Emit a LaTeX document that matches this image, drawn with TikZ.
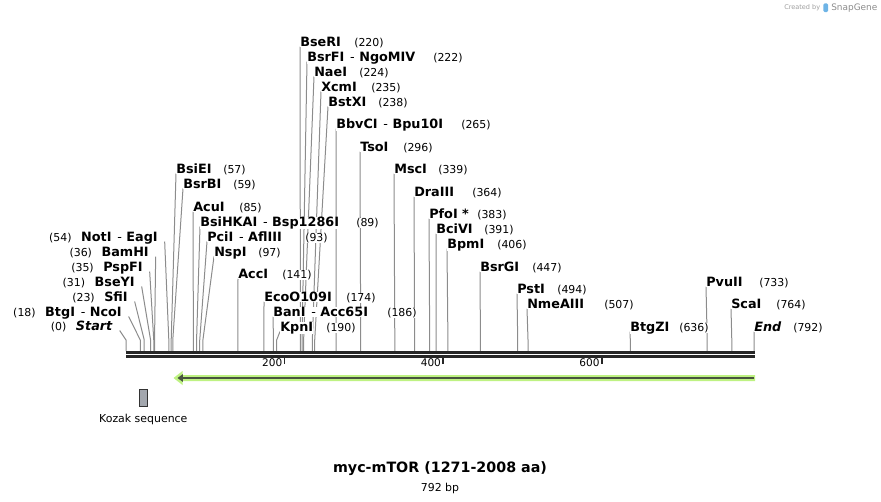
\documentclass[tikz,border=0pt]{standalone}
\usepackage{fontspec}
\setmainfont{DejaVu Sans}
\usetikzlibrary{positioning, arrows.meta, backgrounds}
\usetikzlibrary{calc}

\definecolor{featgreen}{RGB}{190,242,130}
\definecolor{featdark}{RGB}{72,84,62}
\definecolor{kozakgray}{RGB}{163,167,174}
\definecolor{sglogo}{RGB}{110,180,230}

% separator between two enzymes that cut at the same place
\newcommand{\cutsep}{\hspace{0.45em}{\mdseries -}\hspace{0.35em}}

\begin{document}
\begin{tikzpicture}[x=0.75pt, y=-0.75pt, >=Stealth,
    sitename/.style={inner sep=0pt, fill=white, anchor=base west, font=\fontsize{9.6}{11}\selectfont\bfseries},
    leftname/.style={sitename, anchor=base east},
    sitenum/.style={inner sep=0pt, fill=white, anchor=base west, font=\fontsize{8.2}{10}\selectfont},
    siteline/.style={draw=black!45, line width=0.75pt},
    axisline/.style={draw=black!85},
    ticklabel/.style={inner sep=0pt, anchor=east, font=\fontsize{7.9}{9}\selectfont},
    kozakbox/.style={draw=black!80, fill=kozakgray, line width=0.75pt, minimum width=6pt, minimum height=12.5pt, inner sep=0pt},
    featlabel/.style={inner sep=0pt, font=\fontsize{8.2}{10}\selectfont}
]
\useasboundingbox (0,0) rectangle (881,501);

% sites labelled above, name first
\foreach \p/\lx/\ly/\nm/\nx [count=\i] in {
    57/176/169/{BsiEI}/223, 59/183/184/{BsrBI}/233, 85/193/207/{AcuI}/239,
    89/200/222/{BsiHKAI\cutsep Bsp1286I}/356, 93/207/237/{PciI\cutsep AflIII}/305,
    97/214/252/{NspI}/258, 141/238/274/{AccI}/282, 174/264/297/{EcoO109I}/346,
    186/273/312/{BanI\cutsep Acc65I}/387, 190/280/327/{KpnI}/326,
    220/300/42/{BseRI}/354, 222/307/57/{BsrFI\cutsep NgoMIV}/433,
    224/314/72/{NaeI}/359, 235/321/87/{XcmI}/371, 238/328/102/{BstXI}/378,
    265/336/124/{BbvCI\cutsep Bpu10I}/461, 296/360/147/{TsoI}/403,
    339/394/169/{MscI}/438, 364/414/192/{DraIII}/472, 383/429/214/{PfoI *}/477,
    391/436/229/{BciVI}/484, 406/447/244/{BpmI}/497, 447/480/267/{BsrGI}/532,
    494/517/289/{PstI}/557, 507/527/304/{NmeAIII}/604, 636/630/327/{BtgZI}/679,
    733/706/282/{PvuII}/759, 764/731/304/{ScaI}/776, 792/754/327/{\textit{End}}/793}{
  \node[sitename] (top\i) at (\lx,{\ly+4.5}) {\nm};
  \node[sitenum] (topn\i) at (\nx,{\ly+4.5}) {(\p)};
  \coordinate (topk\i) at ({126+\p*0.79293},340);
  \coordinate (topa\i) at ({126+\p*0.79293},351);
  \begin{scope}[on background layer]
    \draw[siteline] (top\i.base west) -- (topk\i) -- (topa\i);
  \end{scope}
}

% sites labelled on the left, number first
\foreach \p/\ex/\ly/\nm [count=\i] in {
    0/113/326/{\textit{Start}}, 18/122/312/{BtgI\cutsep NcoI}, 23/128/297/{SfiI},
    31/135/282/{BseYI}, 35/143/267/{PspFI}, 36/149/252/{BamHI},
    54/158/237/{NotI\cutsep EagI}}{
  \node[leftname] (left\i) at (\ex,{\ly+4.5}) {\nm};
  \node[sitenum, anchor=base east] (leftn\i) at ([xshift=-6.75pt]left\i.base west) {(\p)};
  \coordinate (leftk\i) at ({126+\p*0.79293},340);
  \coordinate (lefta\i) at ({126+\p*0.79293},351);
  \begin{scope}[on background layer]
    \draw[siteline] ([xshift=5pt]left\i.base east) -- (leftk\i) -- (lefta\i);
  \end{scope}
}

% sequence axis
\coordinate (ax1L) at (126,352.5);
\coordinate (ax1R) at (754.5,352.5);
\coordinate (ax2L) at (126,356.25);
\coordinate (ax2R) at (754.5,356.25);
\draw[axisline, line width=2.25pt] (ax1L) -- (ax1R);
\draw[axisline, line width=1.9pt] (ax2L) -- (ax2R);
\foreach \t in {200,400,600}{
  \coordinate (tick\t) at ({126+\t*0.79293},357);
  \draw[axisline, line width=1.2pt] (tick\t) -- ++(0,7);
  \node[ticklabel] (tlab\t) at ([xshift=-1.5pt,yshift=-4.5pt]tick\t) {\t};
}

% feature arrow
\coordinate (fR) at (755,378);
\coordinate (fL) at (173.5,378);
\fill[featgreen] (fR) ++(0,-3) -- (182.5,375) -- (182.5,371) -- (fL) -- (182.5,385) -- (182.5,381) -- (755,381) -- cycle;
\draw[featdark, line width=1.9pt, -{Triangle[length=4pt,width=5.5pt]}] ([xshift=-0.5pt]fR) -- ([xshift=3pt]fL);

% Kozak sequence
\node[kozakbox] (kozak) at (143.3,398.3) {};
\node[featlabel, below=5pt of kozak] (kozaklab) {Kozak sequence};

% title
\node[inner sep=0pt, font=\fontsize{10.7}{13}\selectfont\bfseries] (title) at (440,469) {myc-mTOR (1271-2008 aa)};
\node[inner sep=0pt, font=\fontsize{8.2}{10}\selectfont, below=5pt of title] (length) {792 bp};

% credit
\node[inner sep=0pt, anchor=base west, text=black!38, font=\fontsize{4.9}{6}\selectfont] (created) at (784,9.5) {Created by};
\node[inner sep=0pt, fill=sglogo, minimum width=3.5pt, minimum height=6.5pt, rounded corners=1pt, right=2pt of created] (logo) {};
\node[inner sep=0pt, anchor=base west, text=black!45, font=\fontsize{6.7}{8}\selectfont] (snapgene) at (831,10) {SnapGene};
\end{tikzpicture}
\end{document}
